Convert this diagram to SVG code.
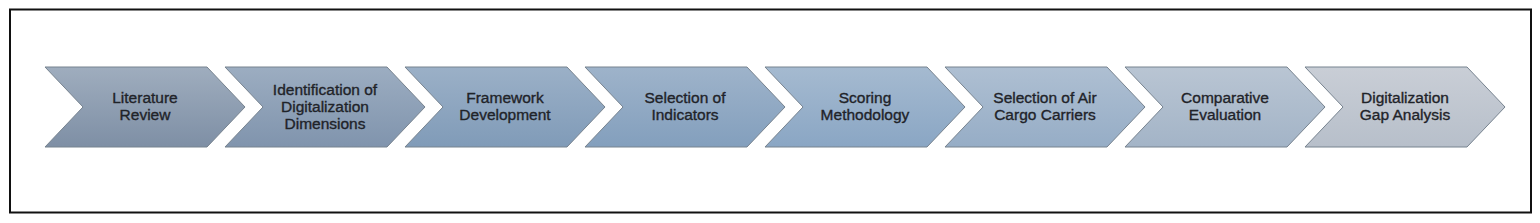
<svg xmlns="http://www.w3.org/2000/svg" width="1540" height="223" viewBox="0 0 1540 223">
<style>
.frame{fill:#fff;stroke:#111;stroke-width:2}
.chev{stroke:#77838f;stroke-width:1}
.lbl{font-family:"Liberation Sans",Arial,sans-serif;font-size:15.5px;fill:#1f2329;text-anchor:middle;stroke:#1f2329;stroke-width:0.35}
</style>
<defs>
<linearGradient id="g1" x1="0" y1="0" x2="0" y2="1"><stop offset="0" stop-color="#9fadbe"/><stop offset="1" stop-color="#7e8fa5"/></linearGradient>
<linearGradient id="g2" x1="0" y1="0" x2="0" y2="1"><stop offset="0" stop-color="#9cadc1"/><stop offset="1" stop-color="#8094ad"/></linearGradient>
<linearGradient id="g3" x1="0" y1="0" x2="0" y2="1"><stop offset="0" stop-color="#9bb0c7"/><stop offset="1" stop-color="#809bb8"/></linearGradient>
<linearGradient id="g4" x1="0" y1="0" x2="0" y2="1"><stop offset="0" stop-color="#9eb3ca"/><stop offset="1" stop-color="#839fbd"/></linearGradient>
<linearGradient id="g5" x1="0" y1="0" x2="0" y2="1"><stop offset="0" stop-color="#a5bad0"/><stop offset="1" stop-color="#8aa6c4"/></linearGradient>
<linearGradient id="g6" x1="0" y1="0" x2="0" y2="1"><stop offset="0" stop-color="#aebfd2"/><stop offset="1" stop-color="#96adc6"/></linearGradient>
<linearGradient id="g7" x1="0" y1="0" x2="0" y2="1"><stop offset="0" stop-color="#b9c5d3"/><stop offset="1" stop-color="#a3b4c7"/></linearGradient>
<linearGradient id="g8" x1="0" y1="0" x2="0" y2="1"><stop offset="0" stop-color="#c9ced6"/><stop offset="1" stop-color="#b7bfca"/></linearGradient>
</defs>
<rect class="frame" x="10" y="9.5" width="1521" height="203"/>
<g id="connectors"/>
<g id="n1"><path class="chev" fill="url(#g1)" d="M45,67H207L245,107L207,147H45L83,107Z"/>
<text class="lbl" x="145" y="103">Literature</text><text class="lbl" x="145" y="120">Review</text></g>
<g id="n2"><path class="chev" fill="url(#g2)" d="M225,67H387L425,107L387,147H225L263,107Z"/>
<text class="lbl" x="325" y="95">Identification of</text><text class="lbl" x="325" y="112">Digitalization</text><text class="lbl" x="325" y="129">Dimensions</text></g>
<g id="n3"><path class="chev" fill="url(#g3)" d="M405,67H567L605,107L567,147H405L443,107Z"/>
<text class="lbl" x="505" y="103">Framework</text><text class="lbl" x="505" y="120">Development</text></g>
<g id="n4"><path class="chev" fill="url(#g4)" d="M585,67H747L785,107L747,147H585L623,107Z"/>
<text class="lbl" x="685" y="103">Selection of</text><text class="lbl" x="685" y="120">Indicators</text></g>
<g id="n5"><path class="chev" fill="url(#g5)" d="M765,67H927L965,107L927,147H765L803,107Z"/>
<text class="lbl" x="865" y="103">Scoring</text><text class="lbl" x="865" y="120">Methodology</text></g>
<g id="n6"><path class="chev" fill="url(#g6)" d="M945,67H1107L1145,107L1107,147H945L983,107Z"/>
<text class="lbl" x="1045" y="103">Selection of Air</text><text class="lbl" x="1045" y="120">Cargo Carriers</text></g>
<g id="n7"><path class="chev" fill="url(#g7)" d="M1125,67H1287L1325,107L1287,147H1125L1163,107Z"/>
<text class="lbl" x="1225" y="103">Comparative</text><text class="lbl" x="1225" y="120">Evaluation</text></g>
<g id="n8"><path class="chev" fill="url(#g8)" d="M1305,67H1467L1505,107L1467,147H1305L1343,107Z"/>
<text class="lbl" x="1405" y="103">Digitalization</text><text class="lbl" x="1405" y="120">Gap Analysis</text></g>
</svg>
